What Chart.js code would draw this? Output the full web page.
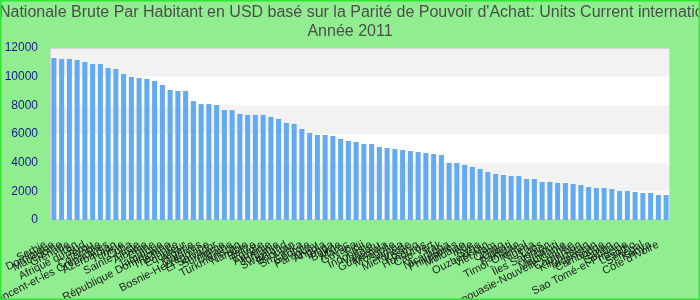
<!DOCTYPE html>
<html>
<head>
<meta charset="utf-8">
<script src="https://cdn.jsdelivr.net/npm/chart.js@4"></script>
<style>
  html, body { margin: 0; padding: 0; background: #90ee90; }
  #wrap { width: 700px; height: 300px; }
</style>
</head>
<body>
<div id="wrap"><canvas id="gniChart" width="700" height="300"></canvas></div>
<script>
// title lines (the first one is wider than the canvas and gets cut on both sides)
const titleLines = [
  "Revenu Nationale Brute Par Habitant en USD basé sur la Parité de Pouvoir d'Achat: Units Current international $US",
  "Année 2011"
];

const countries = [
  "Serbie", "Dominique", "Macédoine", "Grenade", "Iran", "Afrique du Sud", "Pérou", "Colombie",
  "Saint-Vincent-et-les Grenadines", "Azerbaïdjan", "Tunisie", "Cuba", "Sainte-Lucie", "Albanie",
  "Chine", "Jamaïque", "République Dominicaine", "Thaïlande", "Équateur", "Algérie",
  "Maldives", "Bosnie-Herzégovine", "El Salvador", "Suriname", "Ukraine", "Turkménistan", "Namibie", "Belize",
  "Égypte", "Arménie", "Jordanie", "Swaziland", "Bhoutan", "Sri Lanka", "Géorgie", "Paraguay",
  "Angola", "Tonga", "Bolivie", "Maroc", "Guyana", "Fidji", "Indonésie", "Vanuatu", "Guatemala",
  "Mongolie", "Samoa", "Micronésie", "Kosovo", "Honduras", "Cap-Vert", "Irak", "Nicaragua",
  "Philippines", "Moldavie", "Inde", "Syrie", "Ouzbékistan", "Viêt Nam", "Congo", "Kiribati",
  "Pakistan", "Timor Oriental", "Nigeria", "Laos", "Îles Salomon", "Djibouti", "Mauritanie",
  "Papouasie-Nouvelle-Guinée", "Cameroun", "Kirghizstan", "Tadjikistan", "Cambodge", "Yémen",
  "Soudan", "Sao Tomé-et-Principe", "Lesotho", "Sénégal", "Kenya", "Côte d'Ivoire"
];

const gniValues = [
  11300, 11230, 11230, 11160, 11020, 10880, 10880, 10600, 10530, 10190,
  9980, 9910, 9840, 9700, 9420, 9070, 9000, 9000, 8300, 8090,
  8090, 8020, 7670, 7670, 7400, 7330, 7330, 7330, 7190, 7050,
  6770, 6700, 6350, 6070, 5930, 5930, 5860, 5650, 5510, 5440,
  5300, 5300, 5090, 5020, 4950, 4880, 4810, 4740, 4670, 4600,
  4530, 3980, 3980, 3840, 3700, 3560, 3350, 3210, 3140, 3070,
  3070, 2860, 2860, 2650, 2650, 2580, 2580, 2510, 2440, 2300,
  2230, 2230, 2160, 2020, 2020, 1950, 1880, 1880, 1740, 1740
];

const yTicks = [0, 2000, 4000, 6000, 8000, 10000, 12000];

// green page background + border, and the title on top
const frame = {
  id: 'frame',
  beforeDraw(chart) {
    const ctx = chart.ctx;
    ctx.save();
    ctx.fillStyle = '#90ee90';
    ctx.fillRect(0, 0, chart.width, chart.height);
    ctx.restore();
  },
  afterDraw(chart) {
    const ctx = chart.ctx;
    ctx.save();
    ctx.font = '16px "Liberation Sans", Arial, sans-serif';
    ctx.fillStyle = '#4d4d4d';
    ctx.textAlign = 'center';
    ctx.textBaseline = 'middle';
    ctx.fillText(titleLines[0], chart.width / 2, 13);
    ctx.fillText(titleLines[1], chart.width / 2, 32);
    ctx.strokeStyle = '#33e633';
    ctx.lineWidth = 1.5;
    ctx.strokeRect(0.75, 0.75, chart.width - 1.5, chart.height - 1.5);
    ctx.restore();
  }
};

// alternating bands behind the bars, grey frame round the plot
const bands = {
  id: 'bands',
  beforeDatasetsDraw(chart) {
    const ctx = chart.ctx;
    const a = chart.chartArea;
    const y = chart.scales.y;
    ctx.save();
    ctx.fillStyle = '#ffffff';
    ctx.fillRect(a.left, a.top, a.right - a.left, a.bottom - a.top);
    ctx.fillStyle = '#f2f2f2';
    for (let i = 1; i < yTicks.length - 1; i += 2) {
      const top = y.getPixelForValue(yTicks[i + 1]);
      const bot = y.getPixelForValue(yTicks[i]);
      ctx.fillRect(a.left, top, a.right - a.left, bot - top);
    }
    ctx.strokeStyle = '#d6d6d6';
    ctx.lineWidth = 1;
    ctx.strokeRect(a.left + 0.5, a.top + 0.5, a.right - a.left - 1, a.bottom - a.top - 1);
    ctx.restore();
  }
};

new Chart(document.getElementById('gniChart'), {
  type: 'bar',
  data: {
    labels: countries,
    datasets: [{
      data: gniValues,
      backgroundColor: '#63aaf0',
      barPercentage: 0.65,
      categoryPercentage: 1.0
    }]
  },
  options: {
    responsive: false,
    animation: false,
    layout: { padding: { top: 48, right: 30, left: 0, bottom: 0 } },
    plugins: { legend: { display: false }, tooltip: { enabled: false } },
    scales: {
      x: {
        grid: { display: false, drawTicks: false },
        border: { display: false },
        ticks: {
          autoSkip: false,
          minRotation: 27,
          maxRotation: 27,
          padding: 14,
          color: '#1e1e1e',
          font: { family: '"Liberation Sans", Arial, sans-serif', size: 11 },
          // a little trailing room so the text ends just left of its bar, like the original
          callback(value) { return countries[value] + '   '; }
        },
        afterFit(scale) {
          scale.height = 80;
          scale.paddingLeft = 0;
          scale.paddingRight = 0;
        }
      },
      y: {
        min: 0,
        max: 12000,
        grid: { display: false, drawTicks: false },
        border: { display: false },
        ticks: {
          stepSize: 2000,
          padding: 12,
          color: '#1a1a8a',
          font: { family: '"Liberation Sans", Arial, sans-serif', size: 12 },
          callback(value) { return String(value); }
        },
        afterFit(scale) {
          scale.width = 50;
        }
      }
    }
  },
  plugins: [frame, bands]
});
</script>
</body>
</html>
